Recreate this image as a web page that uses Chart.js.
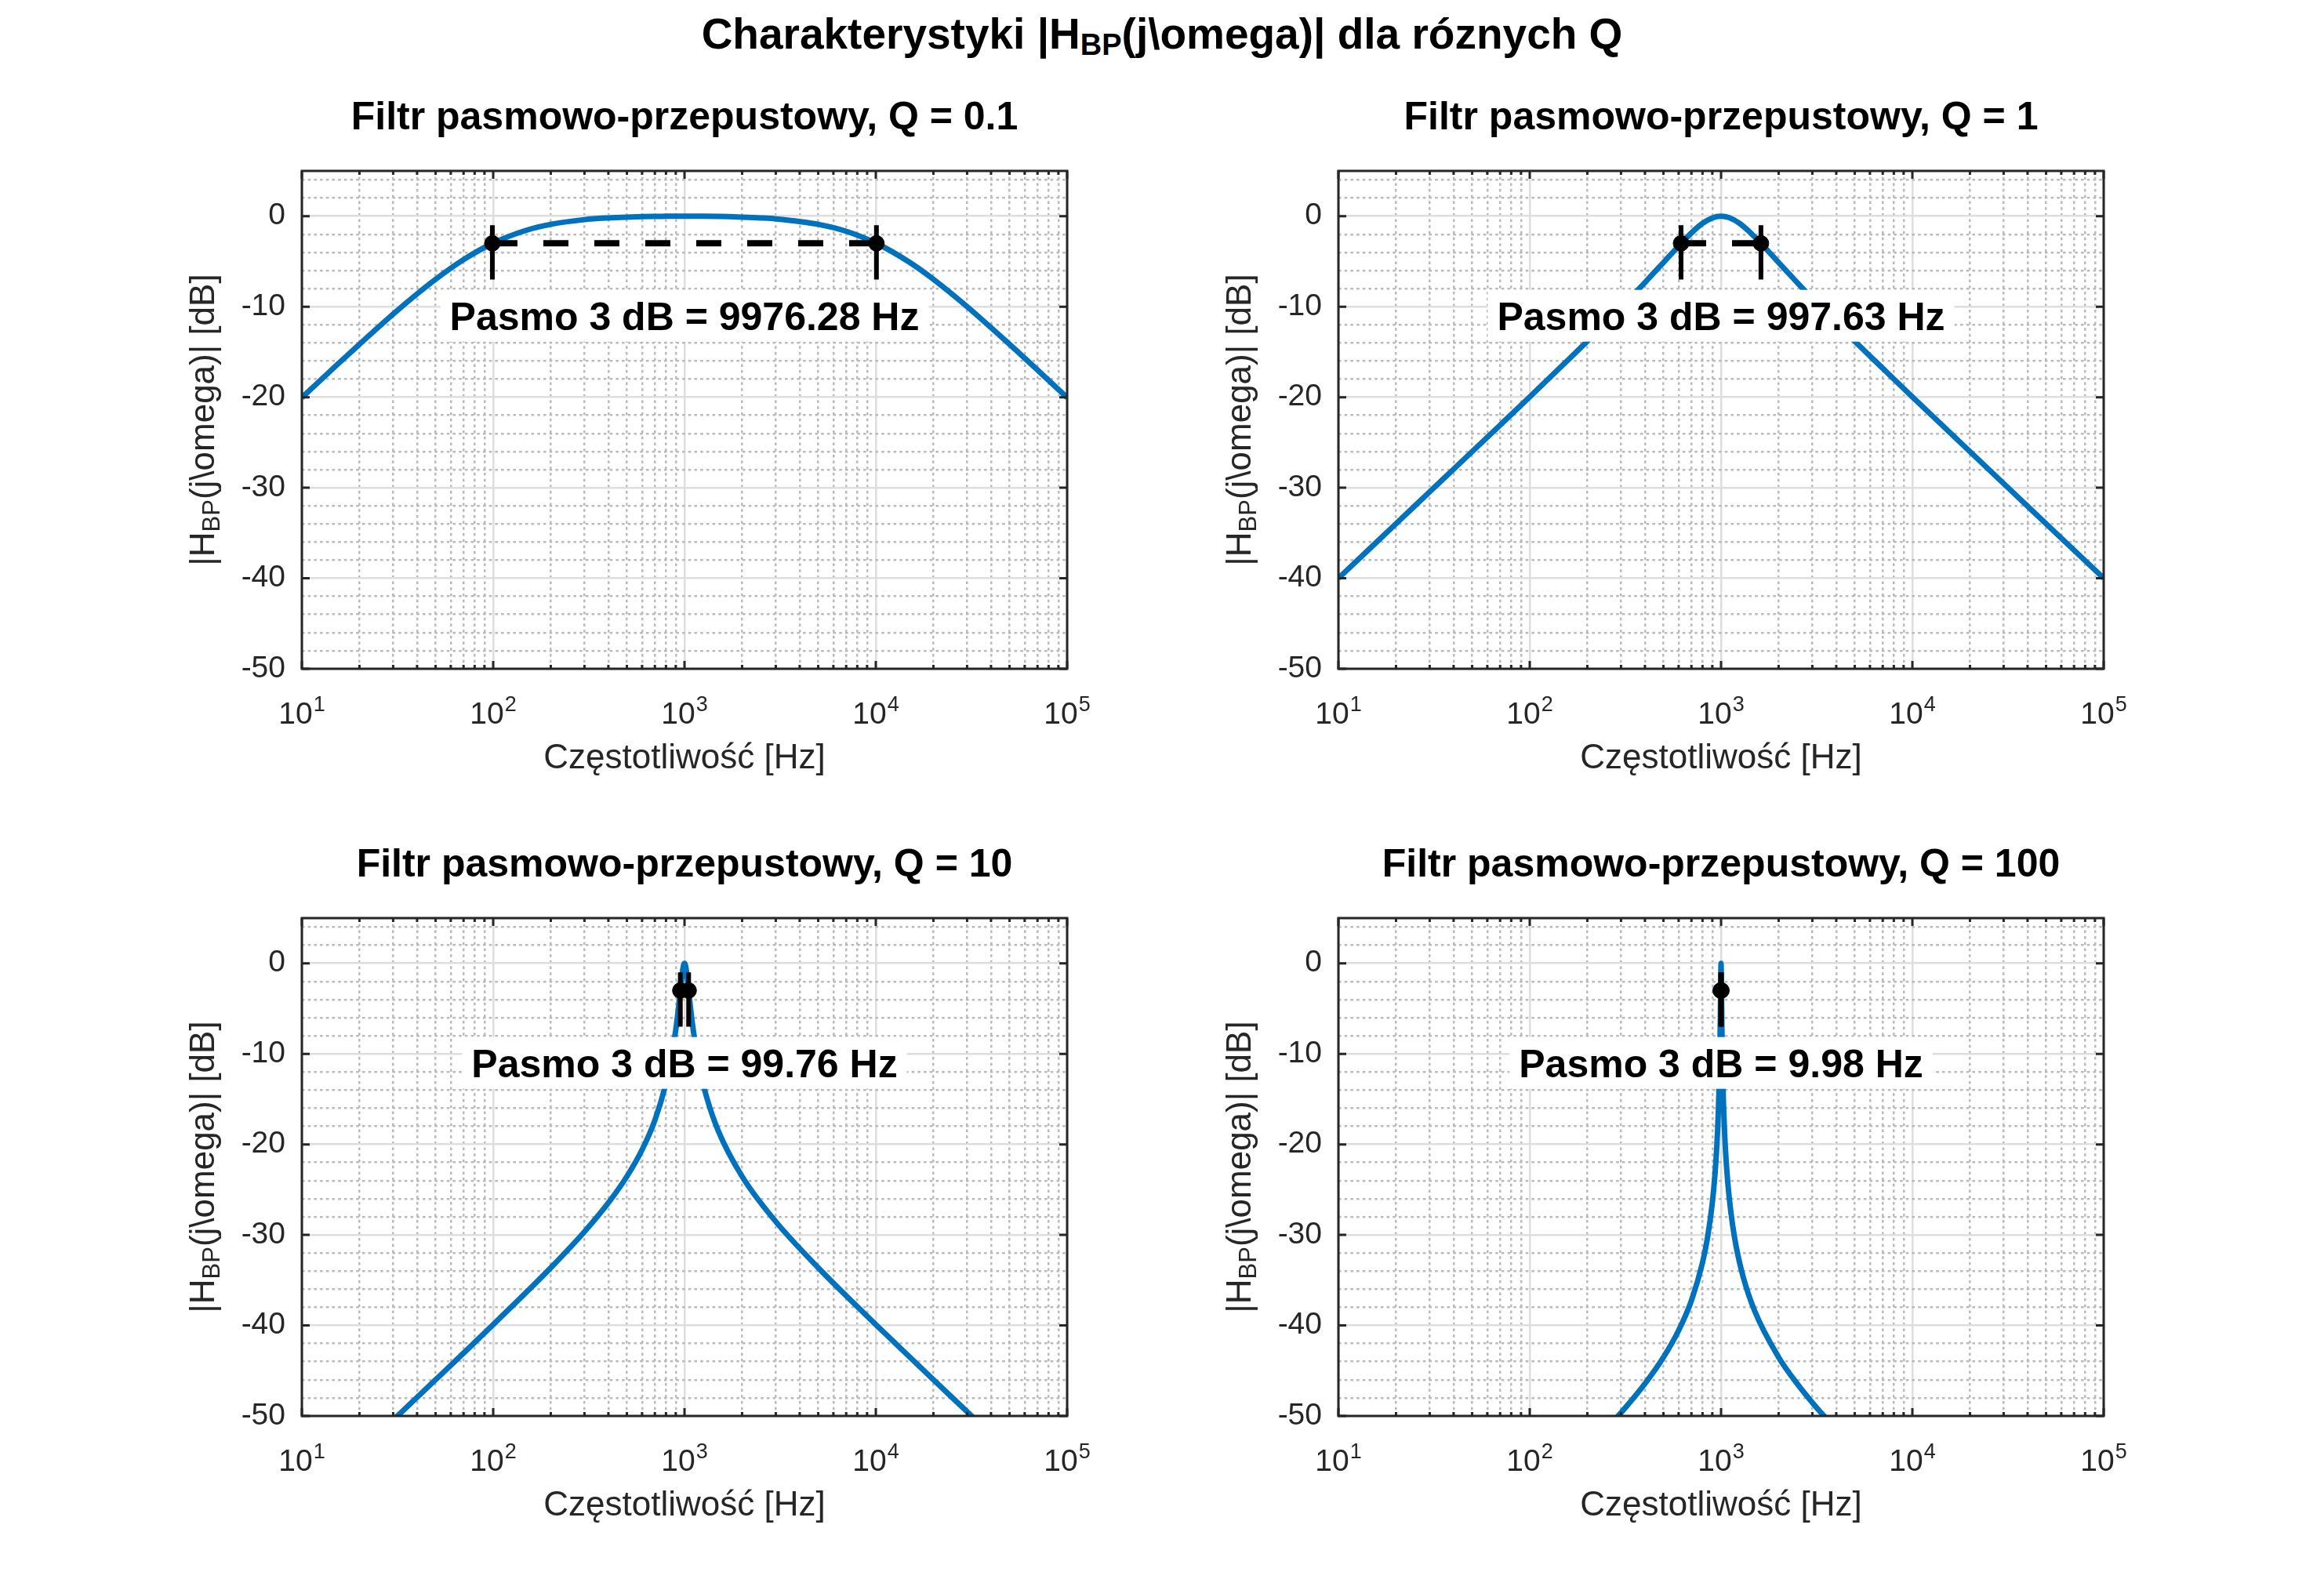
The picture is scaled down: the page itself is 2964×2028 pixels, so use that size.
<!DOCTYPE html>
<html>
<head>
<meta charset="utf-8">
<script src="https://cdn.jsdelivr.net/npm/chart.js@4.4.1/dist/chart.umd.min.js"></script>
<style>
  body { margin: 0; background: #fff; }
  #page { position: relative; width: 2964px; height: 2028px; background: #fff; overflow: hidden; }
  #mainTitle {
    position: absolute; left: 0; top: 11px; width: 2964px;
    text-align: center; line-height: 55px;
    font: bold 55px "Liberation Sans", Arial, sans-serif; color: #000;
  }
  #mainTitle sub { font-size: 38px; vertical-align: -8px; line-height: 0; }
  .panel { position: absolute; }
</style>
</head>
<body>
<div id="page">
  <div id="mainTitle">Charakterystyki |H<sub>BP</sub>(j\omega)| dla róznych Q</div>
  <div class="panel" id="p0"><canvas id="c0"></canvas></div>
  <div class="panel" id="p1"><canvas id="c1"></canvas></div>
  <div class="panel" id="p2"><canvas id="c2"></canvas></div>
  <div class="panel" id="p3"><canvas id="c3"></canvas></div>
</div>

<script>

// data

const qLabels = ['0.1', '1', '10', '100'];
const bandwidthText = ['9976.28', '997.63', '99.76', '9.98'];

// -3 dB points (Hz)
const f3dbLow = [99.0, 618, 951, 995];
const f3dbHigh = [10075, 1616, 1051, 1005];

const freqWide = [10, 15, 20, 30, 40, 50, 70, 100, 150, 200, 300, 400, 500, 600, 700, 800, 900,
  1000, 1100, 1250, 1500, 1700, 2000, 2500, 3000, 5000, 7000, 10000, 15000, 20000, 30000,
  50000, 70000, 100000];

const magQ01 = [-20.04, -16.57, -14.15, -10.82, -8.59, -6.97, -4.80, -2.97, -1.54, -0.90, -0.38,
  -0.19, -0.10, -0.05, -0.02, -0.01, 0, 0, 0, -0.01, -0.03, -0.05, -0.10, -0.19, -0.30, -0.90,
  -1.67, -2.97, -5.09, -6.97, -9.99, -14.15, -16.99, -20.04];

const magQ1 = [-40.00, -36.48, -33.98, -30.45, -27.95, -26.01, -23.08, -19.96, -16.38, -13.81,
  -10.09, -7.33, -5.12, -3.30, -1.85, -0.80, -0.19, 0, -0.16, -0.80, -2.29, -3.49, -5.12, -7.33,
  -9.09, -13.81, -16.81, -19.96, -23.50, -26.01, -29.54, -33.98, -36.90, -40.00];

const freqQ10 = [10, 20, 30, 50, 70, 100, 150, 200, 300, 400, 500, 600, 700, 800, 850, 900, 930,
  950, 970, 980, 990, 1000, 1010, 1020, 1030, 1050, 1080, 1100, 1150, 1200, 1300, 1500, 2000,
  3000, 5000, 7000, 10000, 20000, 30000, 50000, 100000];

const magQ10 = [-60.00, -53.98, -50.45, -46.00, -43.06, -39.91, -36.28, -33.63, -29.64, -26.45,
  -23.54, -20.60, -17.33, -13.27, -10.67, -7.37, -4.93, -3.12, -1.37, -0.66, -0.17, 0, -0.17,
  -0.63, -1.30, -2.91, -5.28, -6.67, -9.48, -11.60, -14.65, -18.48, -23.54, -28.53, -33.63,
  -36.72, -39.91, -46.00, -49.53, -53.98, -60.00];

const freqQ100 = [100, 200, 300, 400, 500, 600, 700, 800, 850, 900, 930, 950, 960, 970, 980, 985,
  990, 993, 995, 997, 998, 999, 1000, 1001, 1002, 1003, 1005, 1007, 1010, 1015, 1020, 1030, 1040,
  1050, 1070, 1100, 1150, 1200, 1300, 1500, 2000, 2500, 3000, 3500, 5000];

const magQ100 = [-59.91, -53.62, -49.64, -46.44, -43.52, -40.56, -37.25, -33.07, -30.28, -26.50,
  -23.26, -20.27, -18.31, -15.81, -12.39, -10.06, -7.02, -4.73, -3.02, -1.34, -0.65, -0.17, 0,
  -0.17, -0.64, -1.33, -3.00, -4.69, -6.96, -9.94, -12.22, -15.56, -17.96, -19.84, -22.66,
  -25.63, -28.96, -31.29, -34.50, -38.42, -43.52, -46.44, -48.52, -50.14, -53.62];

// axis ticks
const xDecades = [10, 100, 1000, 10000, 100000];
const xTickBase = '10';
const xTickExp = ['1', '2', '3', '4', '5'];
const yMajor = [-50, -40, -30, -20, -10, 0];
const yTickText = ['-50', '-40', '-30', '-20', '-10', '0'];

const curves = [
  { freq: freqWide, mag: magQ01 },
  { freq: freqWide, mag: magQ1 },
  { freq: freqQ10, mag: magQ10 },
  { freq: freqQ100, mag: magQ100 }
];


// layout / style

const FONT = '"Liberation Sans", Arial, Helvetica, sans-serif';
const blue = '#0072BD';
const axisColor = '#262626';
const majorGrid = '#dedede';
const minorGrid = '#bababa';

const plotW = 976, plotH = 635;
const colLeft = [385, 1707];
const rowTop = [218, 1171];
const padL = 300, padT = 160, padR = 40, padB = 155;

const noteLevel = -11;   // dB, centre of the bandwidth note

Chart.defaults.font.family = FONT;
Chart.defaults.color = axisColor;

// minor ticks: 2..9 inside each decade, every 2 dB on y
const xAllTicks = [];
xDecades.forEach((d, i) => {
  xAllTicks.push(d);
  if (i < xDecades.length - 1) {
    for (let k = 2; k <= 9; k++) xAllTicks.push(d * k);
  }
});
const yAllTicks = [];
for (let v = -50; v <= 4; v += 2) yAllTicks.push(v);

const isDecade = v => xDecades.includes(v);
const isYMajor = v => yMajor.includes(v);


// text with a subscript part
function richWidth(ctx, parts, size) {
  let w = 0;
  parts.forEach(p => {
    ctx.font = (p.sub ? Math.round(size * 0.7) : size) + 'px ' + FONT;
    w += ctx.measureText(p.t).width;
  });
  return w;
}

function drawRich(ctx, parts, size, x, y) {
  let cx = x;
  parts.forEach(p => {
    ctx.font = (p.sub ? Math.round(size * 0.7) : size) + 'px ' + FONT;
    ctx.fillText(p.t, cx, p.sub ? y + 7 : y);
    cx += ctx.measureText(p.t).width;
  });
}


// MATLAB-like frame, ticks, titles and note
const matlabAxes = {
  id: 'matlabAxes',

  afterDatasetsDraw(chart, args, opts) {
    const ctx = chart.ctx;
    const xs = chart.scales.x;
    const ys = chart.scales.y;
    const { left, right, top, bottom } = chart.chartArea;

    ctx.save();

    // bandwidth note with white box
    ctx.font = 'bold 50px ' + FONT;
    const nx = xs.getPixelForValue(1000);
    const ny = ys.getPixelForValue(noteLevel);
    const w = ctx.measureText(opts.note).width;
    ctx.fillStyle = '#fff';
    ctx.fillRect(nx - w / 2 - 12, ny - 33, w + 24, 66);
    ctx.fillStyle = '#000';
    ctx.textAlign = 'center';
    ctx.textBaseline = 'alphabetic';
    ctx.fillText(opts.note, nx, ny + 18);

    // frame
    ctx.strokeStyle = axisColor;
    ctx.lineWidth = 3;
    ctx.strokeRect(left, top, right - left, bottom - top);

    // inward ticks, mirrored
    ctx.beginPath();
    xAllTicks.forEach(v => {
      const px = xs.getPixelForValue(v);
      const len = isDecade(v) ? 10 : 5;
      ctx.moveTo(px, bottom); ctx.lineTo(px, bottom - len);
      ctx.moveTo(px, top); ctx.lineTo(px, top + len);
    });
    yMajor.forEach(v => {
      const py = ys.getPixelForValue(v);
      ctx.moveTo(left, py); ctx.lineTo(left + 10, py);
      ctx.moveTo(right, py); ctx.lineTo(right - 10, py);
    });
    ctx.stroke();

    // x tick labels 10^n with a raised exponent
    ctx.fillStyle = axisColor;
    ctx.textAlign = 'left';
    xDecades.forEach((d, k) => {
      const px = xs.getPixelForValue(d);
      ctx.font = '39px ' + FONT;
      const wb = ctx.measureText(xTickBase).width;
      ctx.font = '27px ' + FONT;
      const we = ctx.measureText(xTickExp[k]).width;
      const x0 = px - (wb + we + 1) / 2;
      ctx.font = '39px ' + FONT;
      ctx.fillText(xTickBase, x0, bottom + 70);
      ctx.font = '27px ' + FONT;
      ctx.fillText(xTickExp[k], x0 + wb + 1, bottom + 54);
    });

    // subplot title
    const mid = (left + right) / 2;
    ctx.textAlign = 'center';
    ctx.fillStyle = '#000';
    ctx.font = 'bold 50px ' + FONT;
    ctx.fillText(opts.title, mid, top - 53);

    // x title
    ctx.fillStyle = axisColor;
    ctx.font = '44px ' + FONT;
    ctx.fillText('Częstotliwość [Hz]', mid, bottom + 127);

    // y title, rotated
    const parts = [{ t: '|H' }, { t: 'BP', sub: true }, { t: '(j\\omega)| [dB]' }];
    ctx.translate(left - 112, (top + bottom) / 2);
    ctx.rotate(-Math.PI / 2);
    ctx.textAlign = 'left';
    const tw = richWidth(ctx, parts, 44);
    drawRich(ctx, parts, 44, -tw / 2, 0);

    ctx.restore();
  }
};


function makeChart(i) {

  const col = i % 2;
  const row = Math.floor(i / 2);

  const box = document.getElementById('p' + i);
  box.style.left = (colLeft[col] - padL) + 'px';
  box.style.top = (rowTop[row] - padT) + 'px';

  const canvas = document.getElementById('c' + i);
  canvas.width = padL + plotW + padR;
  canvas.height = padT + plotH + padB;

  const c = curves[i];
  const lo = f3dbLow[i];
  const hi = f3dbHigh[i];

  new Chart(canvas, {

    type: 'line',

    data: {
      datasets: [
        {
          data: c.freq.map((f, k) => ({ x: f, y: c.mag[k] })),
          borderColor: blue,
          borderWidth: 7,
          pointRadius: 0,
          cubicInterpolationMode: 'monotone',
          capBezierPoints: false,
          clip: 0,
          order: 4
        },
        {
          // dashed line between the -3 dB points
          data: [{ x: lo, y: -3 }, { x: hi, y: -3 }],
          borderColor: '#000',
          borderWidth: 8,
          borderDash: [32, 33],
          pointRadius: 0,
          clip: 0,
          order: 3
        },
        {
          data: [{ x: lo, y: -1 }, { x: lo, y: -7 }],
          borderColor: '#000',
          borderWidth: 6,
          pointRadius: 0,
          order: 2
        },
        {
          data: [{ x: hi, y: -1 }, { x: hi, y: -7 }],
          borderColor: '#000',
          borderWidth: 6,
          pointRadius: 0,
          order: 2
        },
        {
          data: [{ x: lo, y: -3 }, { x: hi, y: -3 }],
          showLine: false,
          pointRadius: 10,
          pointBackgroundColor: '#000',
          pointBorderColor: '#000',
          pointBorderWidth: 1,
          order: 1
        }
      ]
    },

    options: {

      responsive: false,
      animation: false,
      events: [],

      layout: {
        padding: { left: 0, top: padT, right: padR, bottom: 0 }
      },

      plugins: {
        legend: { display: false },
        tooltip: { enabled: false },
        matlabAxes: {
          title: 'Filtr pasmowo-przepustowy, Q = ' + qLabels[i],
          note: 'Pasmo 3 dB = ' + bandwidthText[i] + ' Hz'
        }
      },

      scales: {

        x: {
          type: 'logarithmic',
          min: 10,
          max: 100000,
          afterBuildTicks: axis => {
            axis.ticks = xAllTicks.map(v => ({ value: v }));
          },
          afterFit: s => {
            s.height = padB;
            s.paddingLeft = 0;
            s.paddingRight = 0;
          },
          ticks: {
            display: false,
            autoSkip: false,
            maxRotation: 0
          },
          grid: {
            drawTicks: false,
            color: c => (c.tick && isDecade(c.tick.value)) ? majorGrid : minorGrid,
            lineWidth: 2.5
          },
          border: {
            display: false,
            dash: c => (c.tick && !isDecade(c.tick.value)) ? [3.5, 4.2] : []
          }
        },

        y: {
          min: -50,
          max: 5,
          afterBuildTicks: axis => {
            axis.ticks = yAllTicks.map(v => ({ value: v }));
          },
          afterFit: s => {
            s.width = padL;
            s.paddingTop = 0;
            s.paddingBottom = 0;
          },
          ticks: {
            autoSkip: false,
            padding: 21,
            font: { size: 39 },
            color: axisColor,
            callback: function(value) {
              const k = yMajor.indexOf(value);
              return k >= 0 ? yTickText[k] : '';
            }
          },
          grid: {
            drawTicks: false,
            color: c => (c.tick && isYMajor(c.tick.value)) ? majorGrid : minorGrid,
            lineWidth: 2.5
          },
          border: {
            display: false,
            dash: c => (c.tick && !isYMajor(c.tick.value)) ? [3.5, 4.2] : []
          }
        }
      }
    },

    plugins: [matlabAxes]
  });
}

[0, 1, 2, 3].forEach(makeChart);

</script>
</body>
</html>
